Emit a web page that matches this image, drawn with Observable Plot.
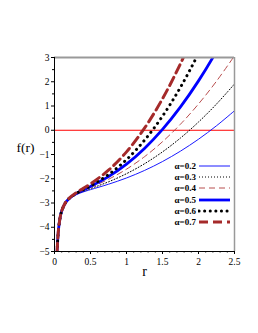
<!DOCTYPE html>
<html><head><meta charset="utf-8">
<script src="https://cdn.jsdelivr.net/npm/d3@7"></script>
<script src="https://cdn.jsdelivr.net/npm/@observablehq/plot@0.6"></script>
<style>
html,body{margin:0;padding:0;background:#fff;}
#wrap{position:relative;width:258px;height:333px;overflow:hidden;}
#legend{position:absolute;left:150px;top:160px;font-family:"Liberation Serif",serif;font-weight:bold;font-size:9px;color:#000;}
.row{display:flex;align-items:center;justify-content:flex-end;height:11.3px;}
.row span{display:inline-block;width:46px;text-align:right;margin-right:2px;}
.row svg{display:block;}
</style></head><body><div id="wrap"></div>
<script>
// radial coordinate samples
const rVals = [0.036, 0.04, 0.05, 0.06, 0.08, 0.1, 0.15, 0.2, 0.3, 0.4, 0.5, 0.75, 1.0, 1.25, 1.5, 1.75, 2.0, 2.25, 2.5];
// f(r) for each alpha
const f02 = [-5.03, -4.76, -4.29, -3.97, -3.575, -3.335, -3.011, -2.844, -2.66, -2.545, -2.45, -2.226, -1.968, -1.658, -1.29, -0.861, -0.37, 0.185, 0.803];
const f03 = [-5.03, -4.764, -4.288, -3.97, -3.574, -3.333, -3.007, -2.837, -2.645, -2.517, -2.407, -2.127, -1.791, -1.382, -0.892, -0.319, 0.339, 1.081, 1.909];
const f04 = [-5.03, -4.764, -4.288, -3.97, -3.572, -3.331, -3.003, -2.83, -2.628, -2.487, -2.36, -2.022, -1.605, -1.091, -0.473, 0.251, 1.083, 2.023, 3.072];
const f05 = [-5.03, -4.763, -4.288, -3.97, -3.572, -3.33, -3.0, -2.824, -2.614, -2.46, -2.316, -1.912, -1.397, -0.751, 0.035, 0.963, 2.036, 3.257, 4.627];
const f06 = [-5.029, -4.764, -4.288, -3.97, -3.572, -3.331, -3.001, -2.824, -2.61, -2.449, -2.291, -1.829, -1.211, -0.412, 0.581, 1.775, 3.177, 4.793, 6.625];
const f07 = [-5.029, -4.763, -4.287, -3.969, -3.57, -3.328, -2.994, -2.812, -2.581, -2.397, -2.211, -1.648, -0.891, 0.086, 1.298, 2.748, 4.444, 6.39, 8.59];

const alphaLabels = ["α=0.2", "α=0.3", "α=0.4", "α=0.5", "α=0.6", "α=0.7"];
const seriesValues = [f02, f03, f04, f05, f06, f07];

const xDomain = [0, 2.5];
const yDomain = [-5, 3];
const xTicks = [0, 0.5, 1, 1.5, 2, 2.5];
const xMinorTicks = [0.1,0.2,0.3,0.4,0.6,0.7,0.8,0.9,1.1,1.2,1.3,1.4,1.6,1.7,1.8,1.9,2.1,2.2,2.3,2.4];
const yTicks = [-5, -4, -3, -2, -1, 0, 1, 2, 3];
const yMinorTicks = [-4.5, -3.5, -2.5, -1.5, -0.5, 0.5, 1.5, 2.5];
const zeroLine = [0];
const xLabel = "r";
const yLabel = "f(r)";

const styles = [
  {stroke: "#0000ff", strokeWidth: 0.9},
  {stroke: "#000000", strokeWidth: 1, strokeDasharray: "1,2"},
  {stroke: "#b03a3a", strokeWidth: 0.9, strokeDasharray: "6,4"},
  {stroke: "#0000ff", strokeWidth: 2.8},
  {stroke: "#000000", strokeWidth: 3, strokeDasharray: "0.1,5.5", strokeLinecap: "round"},
  {stroke: "#a52a2a", strokeWidth: 3, strokeDasharray: "9,5"}
];

const fmt = d => String(d).replace("-", "\u2212");

const tables = seriesValues.map((vals, i) => rVals.map((r, j) => ({r, f: vals[j], a: alphaLabels[i]})));

const lineMarks = tables.map((t, i) => Plot.line(t, {x: "r", y: "f", curve: "catmull-rom", clip: true, ...styles[i]}));

const chart = Plot.plot({
  width: 258,
  height: 333,
  marginLeft: 54,
  marginRight: 24,
  marginTop: 57,
  marginBottom: 82,
  style: {fontFamily: "'Liberation Serif', serif", fontSize: "9px", background: "#fff", color: "#000"},
  x: {domain: xDomain},
  y: {domain: yDomain},
  marks: [
    Plot.ruleY(zeroLine, {stroke: "#ff0000", strokeWidth: 1}),
    ...lineMarks,
    Plot.ruleY([yDomain[1]], {stroke: "#999", strokeWidth: 2}),
    Plot.ruleX([xDomain[1]], {stroke: "#999", strokeWidth: 1.5}),
    Plot.ruleX([xDomain[0]], {stroke: "#000", strokeWidth: 1}),
    Plot.ruleY([yDomain[0]], {stroke: "#000", strokeWidth: 1}),
    Plot.axisY(yTicks, {tickSize: 3, tickPadding: 2, label: null, fontSize: 9.5, tickFormat: fmt}),
    Plot.axisY(yMinorTicks, {tickSize: 2, text: null, label: null}),
    Plot.axisX(xTicks, {tickSize: 3, tickPadding: 4, label: null, fontSize: 9.5, tickFormat: fmt}),
    Plot.axisX(xMinorTicks, {tickSize: 1.5, text: null, label: null}),
    Plot.text([yLabel], {frameAnchor: "left", dx: -29, dy: -7, fontSize: 13.5, fontWeight: "normal", textAnchor: "middle"}),
    Plot.text([xLabel], {frameAnchor: "bottom", dy: 24, fontSize: 14, fontWeight: "normal", textAnchor: "middle"})
  ]
});

const wrap = document.getElementById("wrap");
wrap.appendChild(chart);

const legend = document.createElement("div");
legend.id = "legend";
alphaLabels.forEach((lab, i) => {
  const row = document.createElement("div");
  row.className = "row";
  const s = styles[i];
  row.innerHTML = `<span>${lab}</span><svg width="33" height="10"><line x1="1" x2="32" y1="5" y2="5" stroke="${s.stroke}" stroke-width="${s.strokeWidth}" ${s.strokeDasharray ? `stroke-dasharray="${s.strokeDasharray}"` : ""} ${s.strokeLinecap ? `stroke-linecap="${s.strokeLinecap}"` : ""}/></svg>`;
  legend.appendChild(row);
});
wrap.appendChild(legend);
</script>
</body></html>
